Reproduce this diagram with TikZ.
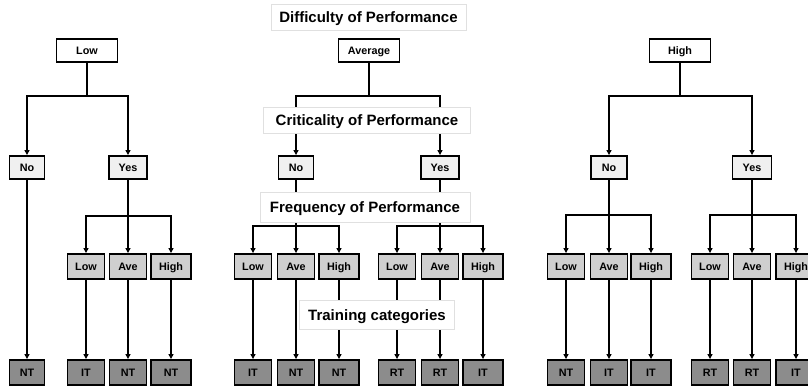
\documentclass[tikz,border=0pt]{standalone}
\usepackage{fontspec}
\setmainfont{Liberation Sans}
\usetikzlibrary{arrows.meta}
\newcommand{\head}[1]{{\fontsize{15}{18}\selectfont\bfseries #1}}

\tikzset{
  diff/.style={draw, fill=white, minimum width=61pt, minimum height=23pt},
  crit/.style={draw, fill=black!6, minimum height=23pt},
  freq/.style={draw, fill=black!19, minimum width=37pt, minimum height=25pt},
  train/.style={draw, fill=black!45, minimum width=37pt, minimum height=25pt},
  title/.style={draw=black!12, line width=0.6pt, fill=white, inner sep=0pt,
    text height=11pt, text depth=0pt},
}

\begin{document}
\begin{tikzpicture}[x=1pt, y=-1pt, line width=1.9pt,
    >={Triangle[length=5pt,width=5pt]},
    font=\fontsize{10.8}{13}\selectfont\bfseries,
    text height=7.7pt, text depth=0pt, inner sep=1pt]
  \useasboundingbox (0,0) rectangle (808,387);
  \clip (0,0) rectangle (808,387);
  \def\yd{50.5}
  \def\yc{167.5}
  \def\yf{266.5}
  \def\yt{372.5}
  \def\yk{96}

  \node[diff] (d1) at (87, \yd) {Low};
  \node[diff] (d2) at (369, \yd) {Average};
  \node[diff] (d3) at (680, \yd) {High};

  \node[crit, minimum width=35pt] (n1) at (27, \yc) {No};
  \node[crit, minimum width=38pt] (y1) at (128, \yc) {Yes};
  \node[crit, minimum width=35pt] (n2) at (296, \yc) {No};
  \node[crit, minimum width=38pt] (y2) at (440, \yc) {Yes};
  \node[crit, minimum width=36pt] (n3) at (609, \yc) {No};
  \node[crit, minimum width=39pt] (y3) at (752, \yc) {Yes};

  \node[freq] (yl1) at (86, \yf) {Low};
  \node[freq] (ya1) at (128, \yf) {Ave};
  \node[freq, minimum width=40pt] (yh1) at (171, \yf) {High};
  \node[freq] (nl2) at (253, \yf) {Low};
  \node[freq] (na2) at (296, \yf) {Ave};
  \node[freq, minimum width=40pt] (nh2) at (339, \yf) {High};
  \node[freq] (yl2) at (397, \yf) {Low};
  \node[freq] (ya2) at (440, \yf) {Ave};
  \node[freq, minimum width=40pt] (yh2) at (483, \yf) {High};
  \node[freq] (nl3) at (566, \yf) {Low};
  \node[freq] (na3) at (609, \yf) {Ave};
  \node[freq, minimum width=40pt] (nh3) at (651, \yf) {High};
  \node[freq] (yl3) at (710, \yf) {Low};
  \node[freq] (ya3) at (752, \yf) {Ave};
  \node[freq, minimum width=40pt] (yh3) at (796, \yf) {High};

  \node[train, minimum width=35pt] (tn1) at (27, \yt) {NT};
  \node[train] (tyl1) at (86, \yt) {IT};
  \node[train] (tya1) at (128, \yt) {NT};
  \node[train, minimum width=40pt] (tyh1) at (171, \yt) {NT};
  \node[train] (tnl2) at (253, \yt) {IT};
  \node[train] (tna2) at (296, \yt) {NT};
  \node[train, minimum width=40pt] (tnh2) at (339, \yt) {NT};
  \node[train] (tyl2) at (397, \yt) {RT};
  \node[train] (tya2) at (440, \yt) {RT};
  \node[train, minimum width=40pt] (tyh2) at (483, \yt) {IT};
  \node[train] (tnl3) at (566, \yt) {NT};
  \node[train] (tna3) at (609, \yt) {IT};
  \node[train, minimum width=40pt] (tnh3) at (651, \yt) {IT};
  \node[train] (tyl3) at (710, \yt) {RT};
  \node[train] (tya3) at (752, \yt) {RT};
  \node[train, minimum width=40pt] (tyh3) at (796, \yt) {IT};

  \coordinate (k1) at (87, \yk);
  \coordinate (k2) at (369, \yk);
  \coordinate (k3) at (680, \yk);
  \coordinate (ky1) at (128, 216);
  \coordinate (kn2) at (296, 226);
  \coordinate (ky2) at (440, 226);
  \coordinate (kn3) at (609, 215);
  \coordinate (ky3) at (752, 215);

  \draw (d1) -- (k1);
  \draw[->] (k1) -| (n1);
  \draw[->] (k1) -| (y1);
  \draw (d2) -- (k2);
  \draw[->] (k2) -| (n2);
  \draw[->] (k2) -| (y2);
  \draw (d3) -- (k3);
  \draw[->] (k3) -| (n3);
  \draw[->] (k3) -| (y3);

  \draw[->] (n1) edge (tn1);

  \draw (y1) -- (ky1);
  \draw[->] (ky1) -| (yl1);
  \draw[->] (ky1) -- (ya1);
  \draw[->] (ky1) -| (yh1);
  \draw (n2) -- (kn2);
  \draw[->] (kn2) -| (nl2);
  \draw[->] (kn2) -- (na2);
  \draw[->] (kn2) -| (nh2);
  \draw (y2) -- (ky2);
  \draw[->] (ky2) -| (yl2);
  \draw[->] (ky2) -- (ya2);
  \draw[->] (ky2) -| (yh2);
  \draw (n3) -- (kn3);
  \draw[->] (kn3) -| (nl3);
  \draw[->] (kn3) -- (na3);
  \draw[->] (kn3) -| (nh3);
  \draw (y3) -- (ky3);
  \draw[->] (ky3) -| (yl3);
  \draw[->] (ky3) -- (ya3);
  \draw[->] (ky3) -| (yh3);

  \draw[->] (yl1) edge (tyl1);
  \draw[->] (ya1) edge (tya1);
  \draw[->] (yh1) edge (tyh1);
  \draw[->] (nl2) edge (tnl2);
  \draw[->] (na2) edge (tna2);
  \draw[->] (nh2) edge (tnh2);
  \draw[->] (yl2) edge (tyl2);
  \draw[->] (ya2) edge (tya2);
  \draw[->] (yh2) edge (tyh2);
  \draw[->] (nl3) edge (tnl3);
  \draw[->] (na3) edge (tna3);
  \draw[->] (nh3) edge (tnh3);
  \draw[->] (yl3) edge (tyl3);
  \draw[->] (ya3) edge (tya3);
  \draw[->] (yh3) edge (tyh3);

  \node[title, minimum width=195pt, minimum height=26pt] (dlab) at (368.5, 17) {\head{Difficulty of Performance}};
  \node[title, minimum width=207pt, minimum height=26pt] (clab) at (367, 120) {\head{Criticality of Performance}};
  \node[title, minimum width=210pt, minimum height=30pt] (flab) at (365, 207) {\head{Frequency of Performance}};
  \node[title, minimum width=155pt, minimum height=29pt] (tlab) at (377, 314.5) {\head{Training categories}};
\end{tikzpicture}
\end{document}
